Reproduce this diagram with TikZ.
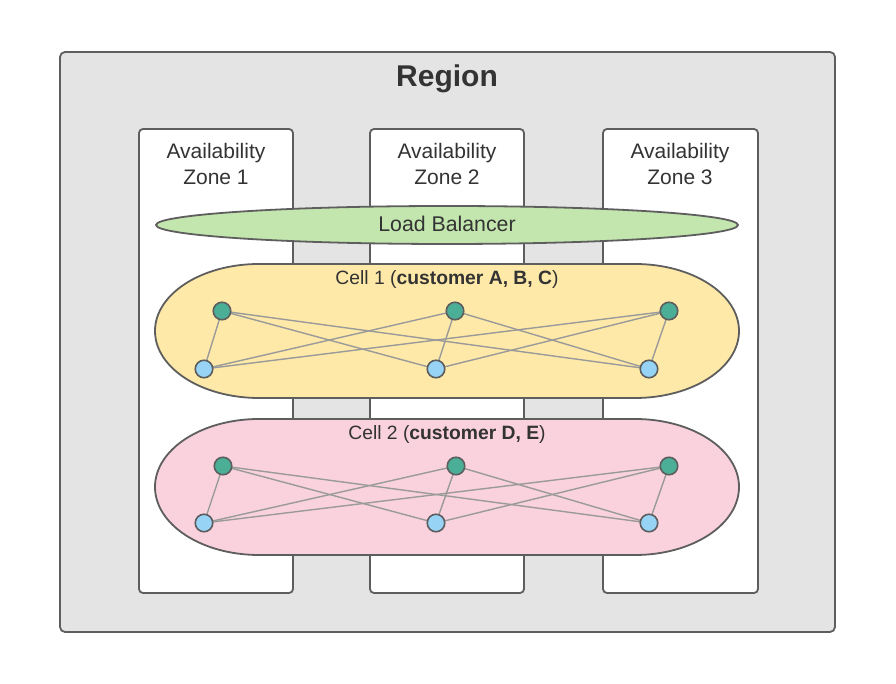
\documentclass[tikz,border=0pt]{standalone}
\usepackage{fontspec}
\setmainfont{Liberation Sans}
\pgfdeclarelayer{front}
\pgfsetlayers{main,front}
\definecolor{regfill}{HTML}{E4E4E4}
\definecolor{strokec}{HTML}{5E5E5E}
\definecolor{txt}{HTML}{333333}
\definecolor{lbfill}{HTML}{C3E6AE}
\definecolor{cellA}{HTML}{FEE9A8}
\definecolor{cellB}{HTML}{F9D2DE}
\definecolor{greenn}{HTML}{4BAE96}
\definecolor{bluen}{HTML}{96D3F5}
\definecolor{edgec}{HTML}{9A9A9A}
\tikzset{
  boxline/.style={draw=strokec, line width=1.8pt},
  gnode/.style={circle, draw=strokec, line width=1.6pt, fill=greenn, minimum size=17.5pt, inner sep=0pt},
  bnode/.style={circle, draw=strokec, line width=1.6pt, fill=bluen, minimum size=17.5pt, inner sep=0pt},
  conn/.style={draw=edgec, line width=1.4pt},
  lbl/.style={text=txt, font=\fontsize{19.3}{22}\selectfont, inner sep=0pt},
  zlbl/.style={text=txt, font=\fontsize{21}{26}\selectfont, align=center, inner sep=0pt},
}
\begin{document}
\begin{tikzpicture}[x=1pt,y=1pt]
\useasboundingbox (0,0) rectangle (896,684);
% region
\draw[boxline, fill=regfill, rounded corners=5pt] (60,52) rectangle (835,632);
\node[text=txt, font=\bfseries\fontsize{30}{34}\selectfont, inner sep=0pt] (region) at (447,605) {Region};
% zones
\draw[boxline, fill=white, rounded corners=4pt] (139,91) rectangle (293,555);
\draw[boxline, fill=white, rounded corners=4pt] (370,91) rectangle (524,555);
\draw[boxline, fill=white, rounded corners=4pt] (603,91) rectangle (758,555);
\node[zlbl] (z1) at (216,520) {Availability\\Zone 1};
\node[zlbl] (z2) at (447,520) {Availability\\Zone 2};
\node[zlbl] (z3) at (680,520) {Availability\\Zone 3};
% load balancer
\draw[boxline, fill=lbfill] (447,459) ellipse [x radius=291, y radius=19];
\node[lbl, font=\fontsize{21.3}{24}\selectfont] (lb) at (447,460) {Load Balancer};
% cell 1
\draw[boxline, fill=cellA] (259,420) -- (635,420) arc[start angle=90, end angle=-90, x radius=104, y radius=67] -- (259,286) arc[start angle=270, end angle=90, x radius=104, y radius=67] -- cycle;
\node[lbl] (c1) at (447,404) {Cell 1 (\textbf{customer A, B, C})};
% cell 2
\draw[boxline, fill=cellB] (259,265) -- (635,265) arc[start angle=90, end angle=-90, x radius=104, y radius=68] -- (259,129) arc[start angle=270, end angle=90, x radius=104, y radius=68] -- cycle;
\node[lbl] (c2) at (447,249) {Cell 2 (\textbf{customer D, E})};
% nodes on the front layer
\begin{pgfonlayer}{front}
\node[gnode] (g11) at (222,373) {};
\node[gnode] (g12) at (455,373) {};
\node[gnode] (g13) at (669,373) {};
\node[bnode] (b11) at (204,315) {};
\node[bnode] (b12) at (436,315) {};
\node[bnode] (b13) at (649,315) {};
\node[gnode] (g21) at (223,218) {};
\node[gnode] (g22) at (456,218) {};
\node[gnode] (g23) at (669,218) {};
\node[bnode] (b21) at (204,161) {};
\node[bnode] (b22) at (436,161) {};
\node[bnode] (b23) at (649,161) {};
\end{pgfonlayer}
% connectors
\foreach \c in {1,2}{
  \foreach \g in {1,2,3}{
    \foreach \b in {1,2,3}{
      \draw[conn] (g\c\g.center) -- (b\c\b.center);
    }
  }
}
\end{tikzpicture}
\end{document}
